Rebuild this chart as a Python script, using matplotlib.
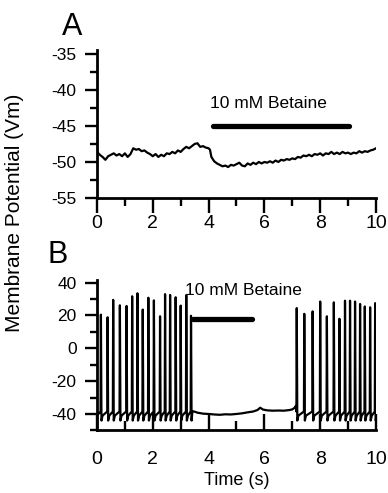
import matplotlib
matplotlib.use("Agg")
import matplotlib.pyplot as plt
from matplotlib.ticker import MultipleLocator

plt.rcParams['font.family'] = ['Liberation Sans', 'DejaVu Sans']
plt.rcParams['axes.unicode_minus'] = False

# panel A: membrane potential every 0.1 s
trace_a_t = [0.0, 0.1, 0.2, 0.3, 0.4, 0.5, 0.6, 0.7, 0.8, 0.9,
             1.0, 1.1, 1.2, 1.3, 1.4, 1.5, 1.6, 1.7, 1.8, 1.9,
             2.0, 2.1, 2.2, 2.3, 2.4, 2.5, 2.6, 2.7, 2.8, 2.9,
             3.0, 3.1, 3.2, 3.3, 3.4, 3.5, 3.6, 3.7, 3.8, 3.9,
             4.0, 4.05, 4.1, 4.2, 4.3, 4.4, 4.5, 4.6, 4.7, 4.8, 4.9,
             5.0, 5.1, 5.2, 5.3, 5.4, 5.5, 5.6, 5.7, 5.8, 5.9,
             6.0, 6.1, 6.2, 6.3, 6.4, 6.5, 6.6, 6.7, 6.8, 6.9,
             7.0, 7.1, 7.2, 7.3, 7.4, 7.5, 7.6, 7.7, 7.8, 7.9,
             8.0, 8.1, 8.2, 8.3, 8.4, 8.5, 8.6, 8.7, 8.8, 8.9,
             9.0, 9.1, 9.2, 9.3, 9.4, 9.5, 9.6, 9.7, 9.8, 9.9, 10.0]
trace_a_v = [-48.6, -49.0, -49.3, -49.7, -49.2, -49.0, -48.8, -49.1, -48.9, -49.2,
             -48.8, -49.3, -48.9, -48.1, -48.3, -48.2, -48.5, -48.4, -48.7, -48.9,
             -49.2, -48.9, -49.3, -49.0, -49.2, -48.8, -48.9, -48.6, -48.8, -48.4,
             -48.6, -48.2, -47.9, -48.1, -47.8, -47.5, -47.4, -47.9, -47.8, -48.0,
             -48.1, -48.3, -49.3, -49.9, -50.2, -50.4, -50.6, -50.5, -50.7, -50.4, -50.5,
             -50.3, -50.1, -50.5, -50.6, -50.2, -50.4, -50.1, -50.3, -50.0, -50.2,
             -50.0, -50.1, -49.9, -50.1, -49.8, -50.0, -49.7, -49.8, -49.6, -49.7,
             -49.5, -49.6, -49.3, -49.4, -49.1, -49.2, -49.0, -49.2, -48.9, -49.0,
             -48.8, -49.1, -48.8, -48.9, -48.6, -48.9, -48.7, -48.9, -48.6, -48.8,
             -48.7, -48.9, -48.7, -48.8, -48.5, -48.7, -48.5, -48.6, -48.4, -48.3, -48.1]

# panel B: spike times (s) and peaks (mV) of the two bursts
burst1_t = [0.14, 0.38, 0.58, 0.82, 1.06, 1.26, 1.45, 1.64, 1.84, 2.04,
            2.26, 2.44, 2.62, 2.82, 3.0, 3.2, 3.37]
burst1_peak = [20.5, 18.9, 29.5, 26.2, 25.8, 31.7, 33.5, 23.6, 30.8, 29.2,
               19.5, 33.0, 32.5, 31.1, 26.0, 32.4, 19.8]
burst2_t = [7.16, 7.43, 7.73, 8.0, 8.24, 8.49, 8.69, 8.89, 9.07, 9.25,
            9.43, 9.6, 9.79, 9.97]
burst2_peak = [24.5, 21.0, 22.5, 28.5, 19.5, 28.0, 18.0, 29.0, 29.0, 28.5,
               27.0, 25.5, 25.0, 27.5]
# quiet stretch between the bursts
quiet_t = [3.42, 3.5, 3.6, 3.7, 3.8, 4.0, 4.2, 4.4, 4.6, 4.8, 5.0, 5.2, 5.4,
           5.6, 5.75, 5.85, 5.95, 6.1, 6.3, 6.5, 6.7, 6.9, 7.0, 7.08, 7.13]
quiet_v = [-38.3, -38.6, -39.2, -39.5, -39.8, -40.0, -40.3, -40.5, -40.2, -40.3,
           -40.0, -39.6, -39.0, -38.5, -37.6, -36.2, -37.3, -37.8, -38.0, -37.9,
           -38.0, -37.6, -37.2, -36.3, -35.0]
spike_start_v = -38.5
ahp_v = -44.0


def burst_trace(times, peaks):
    tt, vv = [], []
    for t, p in zip(times, peaks):
        tt += [t - 0.012, t, t + 0.02, t + 0.06]
        vv += [spike_start_v, p, ahp_v, ahp_v + 3.0]
    return tt, vv


b1_t, b1_v = burst_trace(burst1_t, burst1_peak)
b2_t, b2_v = burst_trace(burst2_t, burst2_peak)
trace_b_t = [0.0] + b1_t[:-1] + quiet_t + b2_t + [10.0]
trace_b_v = [-41.0] + b1_v[:-1] + quiet_v + b2_v + [-39.0]

fig = plt.figure(figsize=(3.88, 4.93), dpi=100)
ax1 = fig.add_axes([0.25, 0.5984, 0.719, 0.3002])
ax2 = fig.add_axes([0.25, 0.127, 0.719, 0.305])

for ax in (ax1, ax2):
    ax.spines['top'].set_visible(False)
    ax.spines['right'].set_visible(False)
    ax.spines['left'].set_linewidth(2)
    ax.spines['bottom'].set_linewidth(2)
    ax.set_xlim(0, 10)
    ax.xaxis.set_major_locator(MultipleLocator(2))
    ax.xaxis.set_minor_locator(MultipleLocator(1))

# panel A
ax1.plot(trace_a_t, trace_a_v, color='black', lw=1.6)
ax1.plot([4.17, 9.05], [-45, -45], color='black', lw=3.8, solid_capstyle='round')
ax1.text(4.05, -42.5, '10 mM Betaine', fontsize=12.5)
ax1.set_ylim(-55, -34.45)
ax1.yaxis.set_major_locator(MultipleLocator(5))
ax1.yaxis.set_minor_locator(MultipleLocator(2.5))
ax1.tick_params(axis='x', which='major', direction='out', length=11, width=1.7,
                labelsize=14, pad=1)
ax1.tick_params(axis='x', which='minor', direction='out', length=6, width=1.7)
ax1.tick_params(axis='y', which='major', direction='out', length=8.6, width=1.7,
                labelsize=12.5, pad=6)
ax1.tick_params(axis='y', which='minor', direction='out', length=5, width=1.7)

# panel B
ax2.plot(trace_b_t, trace_b_v, color='black', lw=1.6)
ax2.plot([3.45, 5.55], [18, 18], color='black', lw=3.8, solid_capstyle='round')
ax2.text(3.15, 32.5, '10 mM Betaine', fontsize=12.5)
ax2.set_ylim(-50, 41.6)
ax2.yaxis.set_major_locator(MultipleLocator(20))
ax2.yaxis.set_minor_locator(MultipleLocator(10))
ax2.set_yticks([40, 20, 0, -20, -40])
ax2.tick_params(axis='x', which='major', direction='in', length=11.5, width=1.7,
                labelsize=14, pad=15)
ax2.tick_params(axis='x', which='minor', direction='in', length=6.5, width=1.7)
ax2.tick_params(axis='y', which='major', direction='out', length=8.6, width=1.7,
                labelsize=12.5, pad=6)
ax2.tick_params(axis='y', which='minor', direction='out', length=5, width=1.7)
ax2.set_xlabel('Time (s)', fontsize=13, labelpad=3)

fig.text(62 / 388, 1 - 35 / 493, 'A', fontsize=22, ha='left', va='baseline')
fig.text(47 / 388, 1 - 263 / 493, 'B', fontsize=22, ha='left', va='baseline')
fig.text(15 / 388, 1 - 213 / 493, 'Membrane Potential (Vm)', fontsize=15,
         rotation=90, ha='center', va='center')

fig.savefig('out.png', dpi=100)
